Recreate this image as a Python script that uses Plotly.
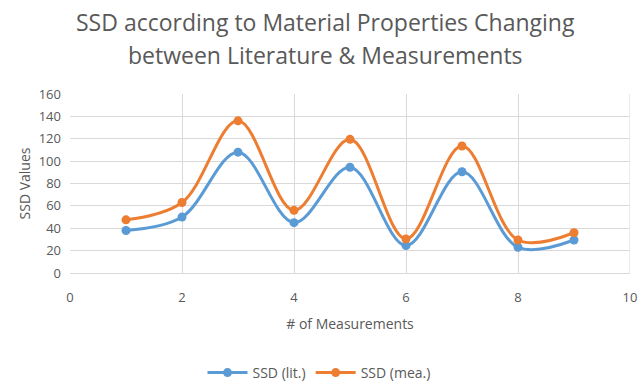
import plotly.graph_objects as go

x_vals = [1, 2, 3, 4, 5, 6, 7, 8, 9]
ssd_lit = [38, 50, 108, 45, 94.5, 24.5, 90.5, 23, 29.5]
ssd_mea = [47.5, 63, 136, 56, 119.5, 30.5, 113.5, 29.5, 36]
series_names = ["SSD (lit.)", "SSD (mea.)"]
colors = ["#5B9BD5", "#ED7D31"]
title_lines = ["SSD according to Material Properties Changing",
               "between Literature &amp; Measurements"]

fig = go.Figure()
for name, ys, c in zip(series_names, [ssd_lit, ssd_mea], colors):
    fig.add_trace(go.Scatter(
        x=x_vals, y=ys, name=name, mode="lines+markers",
        line=dict(color=c, width=3, shape="spline", smoothing=1),
        marker=dict(color=c, size=9),
    ))

grey = "#595959"
T, B, L, R = 94, 110, 70, 8
H = 383 - T - B
fig.update_layout(
    width=638, height=383,
    margin=dict(l=L, r=R, t=T, b=B, autoexpand=False),
    paper_bgcolor="white", plot_bgcolor="white",
    font=dict(family="Open Sans, Liberation Sans, sans-serif", color=grey, size=13),
    xaxis=dict(
        range=[0, 10], dtick=2, tick0=0,
        showgrid=True, gridcolor="#d9d9d9", gridwidth=1,
        showline=True, linecolor="#d9d9d9", mirror=False,
        zeroline=False, ticks="", ticklabelstandoff=12,
        title=dict(text="# of Measurements", font=dict(size=14, color=grey), standoff=14),
        tickfont=dict(size=13, color=grey),
    ),
    yaxis=dict(
        range=[0, 160], dtick=20,
        showgrid=True, gridcolor="#d9d9d9", gridwidth=1,
        showline=False, zeroline=False, ticks="", ticklabelstandoff=8,
        title=dict(text="SSD Values", font=dict(size=14, color=grey), standoff=4),
        tickfont=dict(size=13, color=grey),
    ),
    legend=dict(
        orientation="h", x=0.5, xanchor="center", xref="container",
        y=10 / 383, yanchor="middle", yref="container",
        font=dict(size=14, color=grey), itemwidth=40,
    ),
)
for i, t in enumerate(title_lines):
    fig.add_annotation(text=t, xref="paper", yref="paper", x=(325 - L) / 560, xanchor="center",
                       y=(383 - B - (22 + 33 * i)) / H, yanchor="middle", showarrow=False,
                       font=dict(size=23, color=grey))
fig.add_shape(type="line", xref="x", yref="paper", x0=10, x1=10, y0=0, y1=1,
              line=dict(color="#d9d9d9", width=1))

fig.write_html("out.html")
